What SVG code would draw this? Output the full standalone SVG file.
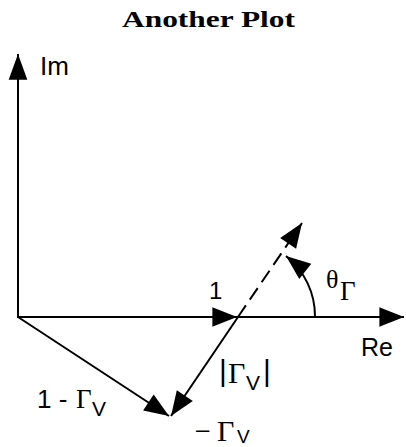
<svg xmlns="http://www.w3.org/2000/svg" width="406" height="447" viewBox="0 0 406 447">
<style>
.ln{stroke:#000;stroke-width:2;fill:none}
.s{font-family:"Liberation Sans",Arial,sans-serif;fill:#000}
.g{font-family:"Liberation Serif","Times New Roman",serif;fill:#000}
</style>
<defs>
<marker id="ah" markerUnits="userSpaceOnUse" markerWidth="30" markerHeight="30" viewBox="-26 -11 28 22" refX="0" refY="0" orient="auto">
<path d="M0,0 L-23,-9 L-23,9 Z" fill="#000"/>
</marker>
<marker id="ahb" markerUnits="userSpaceOnUse" markerWidth="30" markerHeight="30" viewBox="-27 -11 29 22" refX="0" refY="0" orient="auto">
<path d="M0,0 L-25,-9 L-25,9 Z" fill="#000"/>
</marker>
</defs>
<rect width="406" height="447" fill="#fff"/>
<text x="122" y="27" class="g" font-weight="bold" font-size="24" textLength="173" lengthAdjust="spacingAndGlyphs">Another Plot</text>
<g id="connectors">
<path class="ln" d="M18,318 L18,54" marker-end="url(#ahb)"/>
<path class="ln" d="M18,317 L404,317" marker-end="url(#ah)"/>
<path class="ln" d="M18,317 L237,317" marker-end="url(#ah)"/>
<path class="ln" d="M238,317 L302,223" stroke-dasharray="14,7" marker-end="url(#ah)"/>
<path class="ln" d="M315,317 A77,77 0 0,0 286,256" marker-end="url(#ah)"/>
<path class="ln" d="M18,317 L169,416" marker-end="url(#ah)"/>
<path class="ln" d="M238,317 L171,416" marker-end="url(#ah)"/>
</g>
<g id="labels">
<text x="40" y="75" class="s" font-size="26">Im</text>
<text x="361" y="356" class="s" font-size="25">Re</text>
<text x="209" y="299" class="s" font-size="24">1</text>
<text x="326" y="288" class="g" font-size="26">θ</text>
<text x="340" y="300" class="g" font-size="27">Γ</text>
<text x="219" y="381" class="s" font-size="30">|</text>
<text x="228" y="383" class="g" font-size="30">Γ</text>
<text x="246" y="390" class="s" font-size="21">V</text>
<text x="263" y="381" class="s" font-size="30">|</text>
<text x="37" y="408" class="s" font-size="26">1 -</text>
<text x="76" y="408" class="g" font-size="27">Γ</text>
<text x="92" y="416" class="s" font-size="21">V</text>
<text x="196" y="437" class="s" font-size="24">–</text>
<text x="217" y="441" class="g" font-size="30">Γ</text>
<text x="237" y="443" class="s" font-size="19">V</text>
</g>
</svg>
